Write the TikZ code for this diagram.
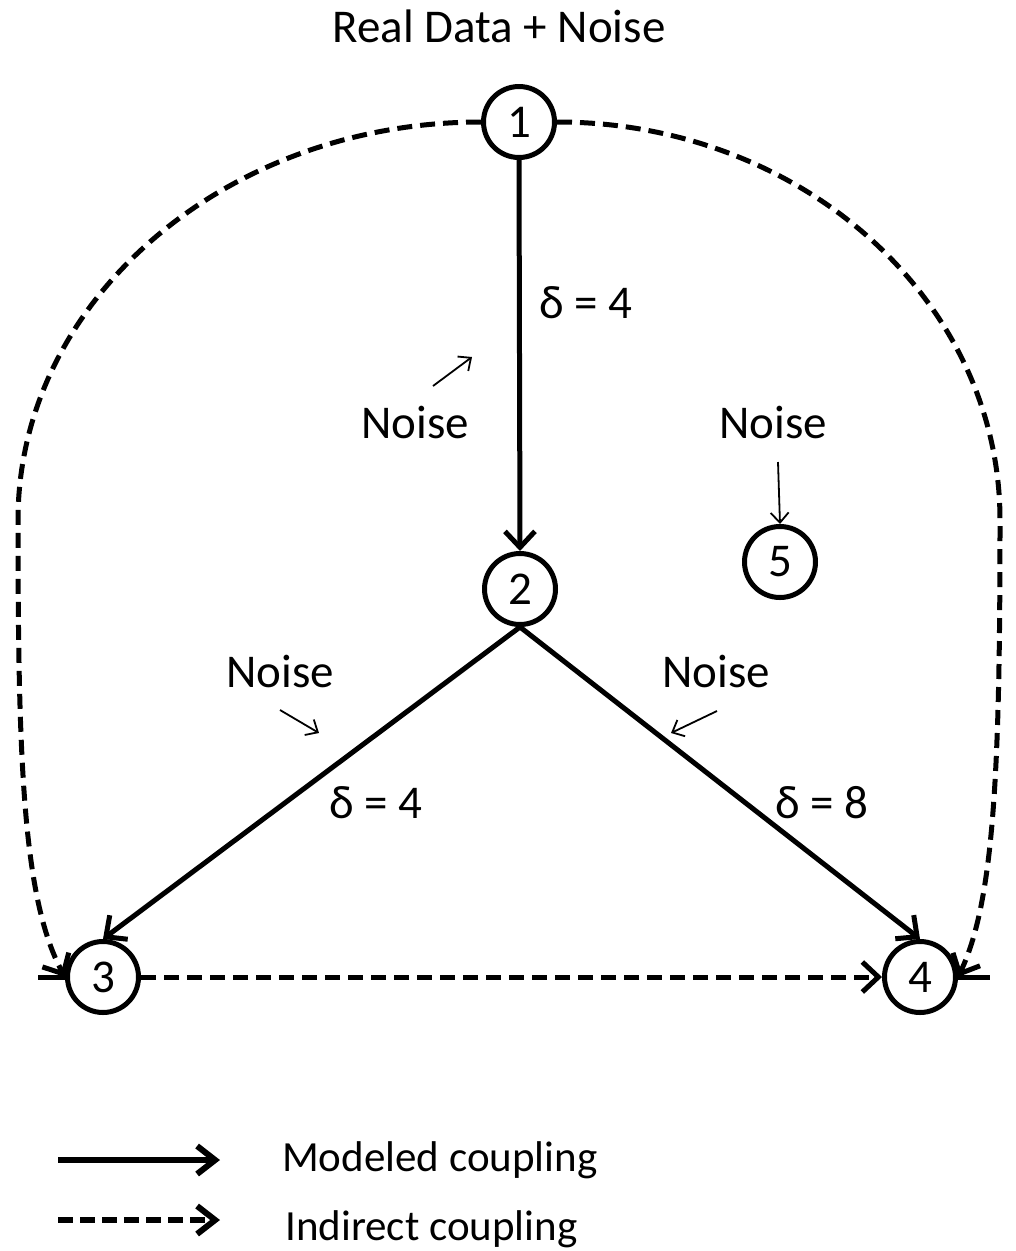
\documentclass[tikz,border=0pt]{standalone}
\usepackage{fontspec}
\setmainfont{Carlito}
\usetikzlibrary{arrows.meta}
\begin{document}
\begin{tikzpicture}[x=1pt,y=-1pt,
  every node/.style={font=\fontsize{47}{56}\selectfont},
  nd/.style={circle,draw,line width=5pt,minimum size=71pt,inner sep=0pt},
  lbl/.style={anchor=base,inner sep=0pt},
  llbl/.style={anchor=base west,inner sep=0pt,font=\fontsize{43}{52}\selectfont},
  model/.style={line width=5pt,-{Straight Barb[length=16pt,width=30pt]}},
  indirect/.style={line width=5pt,dash pattern=on 15pt off 8pt,-{Straight Barb[length=16pt,width=30pt]}},
  stub/.style={line width=5pt},
  legmodel/.style={line width=6pt,-{Straight Barb[length=18pt,width=28pt]}},
  legindirect/.style={line width=6pt,dash pattern=on 15pt off 7pt,-{Straight Barb[length=18pt,width=28pt]}},
  noisearrow/.style={line width=1.8pt,-{Straight Barb[length=10pt,width=18pt]}}]
\useasboundingbox (0,0) rectangle (1016,1251);

% title
\node[lbl] (title) at (499,42) {Real Data + Noise};

% nodes
\node[nd] (n1) at (519,122) {1};
\node[nd] (n2) at (520,589) {2};
\node[nd] (n3) at (103,977) {3};
\node[nd] (n4) at (920,977) {4};
\node[nd] (n5) at (780,562) {5};

% modeled couplings
\draw[model] (n1.south) -- (n2.north);
\draw[model] (n2.south) -- (n3.north);
\draw[model] (n2.south) -- (n4.north);

% indirect couplings
\draw[indirect] (n3.east) -- (n4.west);
\draw[indirect] (n1.west) .. controls (226,122) and (18,300) .. (18,520)
   .. controls (18,760) and (23,900) .. (n3.west);
\draw[indirect] (n1.east) .. controls (801,122) and (1000,300) .. (1000,520)
   .. controls (1000,760) and (995,900) .. (n4.east);
\coordinate (s3) at (38,977);
\coordinate (s4) at (990,977);
\draw[stub] (s3) -- (n3.west);
\draw[stub] (n4.east) -- (s4);

% coupling strengths
\node[lbl] (d12) at (586,318) {δ = 4};
\node[lbl] (d23) at (376,818) {δ = 4};
\node[lbl] (d24) at (822,818) {δ = 8};

% noise labels and arrows
\node[lbl] (noise1) at (415,438) {Noise};
\node[lbl] (noise5) at (773,438) {Noise};
\node[lbl] (noise3) at (280,687) {Noise};
\node[lbl] (noise4) at (716,687) {Noise};

\coordinate (a1s) at (433,386); \coordinate (a1e) at (472,357);
\draw[noisearrow] (a1s) -- (a1e);
\coordinate (a5s) at (778,462);
\draw[noisearrow] (a5s) -- (n5.north);
\coordinate (a3s) at (280,710); \coordinate (a3e) at (319,733);
\draw[noisearrow] (a3s) -- (a3e);
\coordinate (a4s) at (717,711); \coordinate (a4e) at (671,733);
\draw[noisearrow] (a4s) -- (a4e);

% legend
\coordinate (l1s) at (58,1160); \coordinate (l1e) at (220,1160);
\coordinate (l2s) at (58,1220); \coordinate (l2e) at (220,1220);
\draw[legmodel] (l1s) -- (l1e);
\draw[legindirect] (l2s) -- (l2e);
\node[llbl] (leg1) at (282,1171) {Modeled coupling};
\node[llbl] (leg2) at (285,1240) {Indirect coupling};
\end{tikzpicture}
\end{document}
